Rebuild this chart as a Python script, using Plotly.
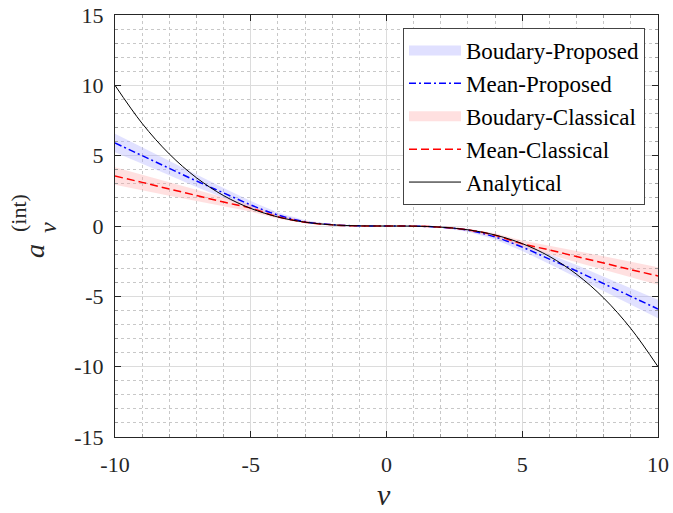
import plotly.graph_objects as go

# ---- data ----
v = [-10, -9, -8, -7, -6, -5, -4, -3, -2, -1, 0, 1, 2, 3, 4, 5, 6, 7, 8, 9, 10]

analytical = [10.0, 7.29, 5.12, 3.43, 2.16, 1.25, 0.64, 0.27, 0.08, 0.01, 0.0,
              -0.01, -0.08, -0.27, -0.64, -1.25, -2.16, -3.43, -5.12, -7.29, -10.0]

mean_proposed = [5.9, 5.0, 4.1, 3.2, 2.35, 1.5, 0.78, 0.3, 0.09, 0.01, 0.0,
                 -0.01, -0.09, -0.3, -0.78, -1.5, -2.35, -3.2, -4.1, -5.0, -5.9]
upper_proposed = [6.55, 5.58, 4.6, 3.63, 2.7, 1.77, 0.96, 0.4, 0.13, 0.02, 0.0,
                  -0.0, -0.05, -0.2, -0.6, -1.23, -2.0, -2.77, -3.6, -4.42, -5.25]
lower_proposed = [5.25, 4.42, 3.6, 2.77, 2.0, 1.23, 0.6, 0.2, 0.05, 0.0, 0.0,
                  -0.02, -0.13, -0.4, -0.96, -1.77, -2.7, -3.63, -4.6, -5.58, -6.55]

mean_classical = [3.55, 3.1, 2.63, 2.17, 1.7, 1.27, 0.66, 0.27, 0.08, 0.01, 0.0,
                  -0.01, -0.08, -0.27, -0.66, -1.27, -1.7, -2.17, -2.63, -3.1, -3.55]
upper_classical = [4.17, 3.65, 3.11, 2.57, 2.02, 1.51, 0.81, 0.35, 0.11, 0.02, 0.0,
                   -0.0, -0.05, -0.19, -0.51, -1.03, -1.38, -1.77, -2.15, -2.55, -2.93]
lower_classical = [2.93, 2.55, 2.15, 1.77, 1.38, 1.03, 0.51, 0.19, 0.05, 0.0, 0.0,
                   -0.02, -0.11, -0.35, -0.81, -1.51, -2.02, -2.57, -3.11, -3.65, -4.17]

x_ticks = [-10, -5, 0, 5, 10]
x_tick_labels = ["-10", "-5", "0", "5", "10"]
y_ticks = [-15, -10, -5, 0, 5, 10, 15]
y_tick_labels = ["-15", "-10", "-5", "0", "5", "10", "15"]

FONT = "Liberation Serif"
TXT = "#262626"
BLUE_BAND = "rgba(170,170,255,0.35)"
RED_BAND = "rgba(255,160,160,0.32)"

fig = go.Figure()

# bands (legend shown through legend-only entries below)
fig.add_trace(go.Scatter(
    x=v + v[::-1], y=upper_proposed + lower_proposed[::-1],
    fill="toself", fillcolor=BLUE_BAND, line=dict(width=0),
    mode="lines", name="Boudary-Proposed", legendgroup="bp",
    showlegend=False, hoverinfo="skip"))
fig.add_trace(go.Scatter(
    x=v + v[::-1], y=upper_classical + lower_classical[::-1],
    fill="toself", fillcolor=RED_BAND, line=dict(width=0),
    mode="lines", name="Boudary-Classical", legendgroup="bc",
    showlegend=False, hoverinfo="skip"))

fig.add_trace(go.Scatter(
    x=[None], y=[None], mode="lines", name="Boudary-Proposed", legendgroup="bp",
    line=dict(color="rgb(224,224,255)", width=20), legendrank=1))
fig.add_trace(go.Scatter(
    x=v, y=mean_proposed, mode="lines", name="Mean-Proposed", legendrank=2,
    line=dict(color="#0000ff", width=1.5, dash="7px,3px,2px,3px", shape="spline")))
fig.add_trace(go.Scatter(
    x=[None], y=[None], mode="lines", name="Boudary-Classical", legendgroup="bc",
    line=dict(color="rgb(255,224,224)", width=20), legendrank=3))
fig.add_trace(go.Scatter(
    x=v, y=mean_classical, mode="lines", name="Mean-Classical", legendrank=4,
    line=dict(color="#ff0000", width=1.5, dash="8px,4px", shape="spline")))
fig.add_trace(go.Scatter(
    x=v, y=analytical, mode="lines", name="Analytical", legendrank=5,
    line=dict(color="#000000", width=1, shape="spline")))

axis_common = dict(
    showline=True, linecolor=TXT, linewidth=1, mirror="allticks",
    ticks="inside", ticklen=6, tickcolor=TXT, tickwidth=1,
    showgrid=True, gridcolor="#dcdcdc", gridwidth=1, zeroline=False,
    automargin=False,
    tickfont=dict(family=FONT, size=22, color=TXT),
    minor=dict(dtick=1, showgrid=True, griddash="dot", gridcolor="#c8c8c8",
               gridwidth=1, ticks="inside", ticklen=3, tickcolor="#9a9a9a"),
)

fig.update_xaxes(range=[-10, 10], tickvals=x_ticks, ticktext=x_tick_labels,
                 ticklabelstandoff=8, **axis_common)
fig.update_yaxes(range=[-15, 15], tickvals=y_ticks, ticktext=y_tick_labels,
                 ticklabelstandoff=6, **axis_common)

L, R, T, B = 115, 15, 15, 76
W, H = 673, 513
pw, ph = W - L - R, H - T - B


def px(xp):
    return (xp - L) / pw


def py(yp):
    return (H - B - yp) / ph


annots = [
    dict(text="<i>a</i>", x=px(34), y=py(251), font=dict(family=FONT, size=28, color=TXT)),
    dict(text="(int)", x=px(19), y=py(213), font=dict(family=FONT, size=22, color=TXT)),
    dict(text="<i>ν</i>", x=px(48), y=py(228), font=dict(family=FONT, size=24, color=TXT)),
]
for a in annots:
    fig.add_annotation(xref="paper", yref="paper", showarrow=False, textangle=-90,
                       xanchor="center", yanchor="middle", **a)

fig.add_annotation(xref="paper", yref="paper", x=px(384), y=py(513), showarrow=False,
                   text="<i>ν</i>", font=dict(family=FONT, size=30, color=TXT),
                   xanchor="center", yanchor="bottom")

fig.update_layout(
    width=W, height=H,
    margin=dict(l=L, r=R, t=T, b=B, autoexpand=False),
    paper_bgcolor="white", plot_bgcolor="white",
    font=dict(family=FONT, color=TXT),
    showlegend=True,
    legend=dict(x=px(645), y=py(28), xanchor="right", yanchor="top",
                bgcolor="white", bordercolor="#444444", borderwidth=1,
                font=dict(family=FONT, size=23, color="#000000"),
                itemwidth=52, tracegroupgap=0, traceorder="normal"),
)

fig.write_html("out.html")
